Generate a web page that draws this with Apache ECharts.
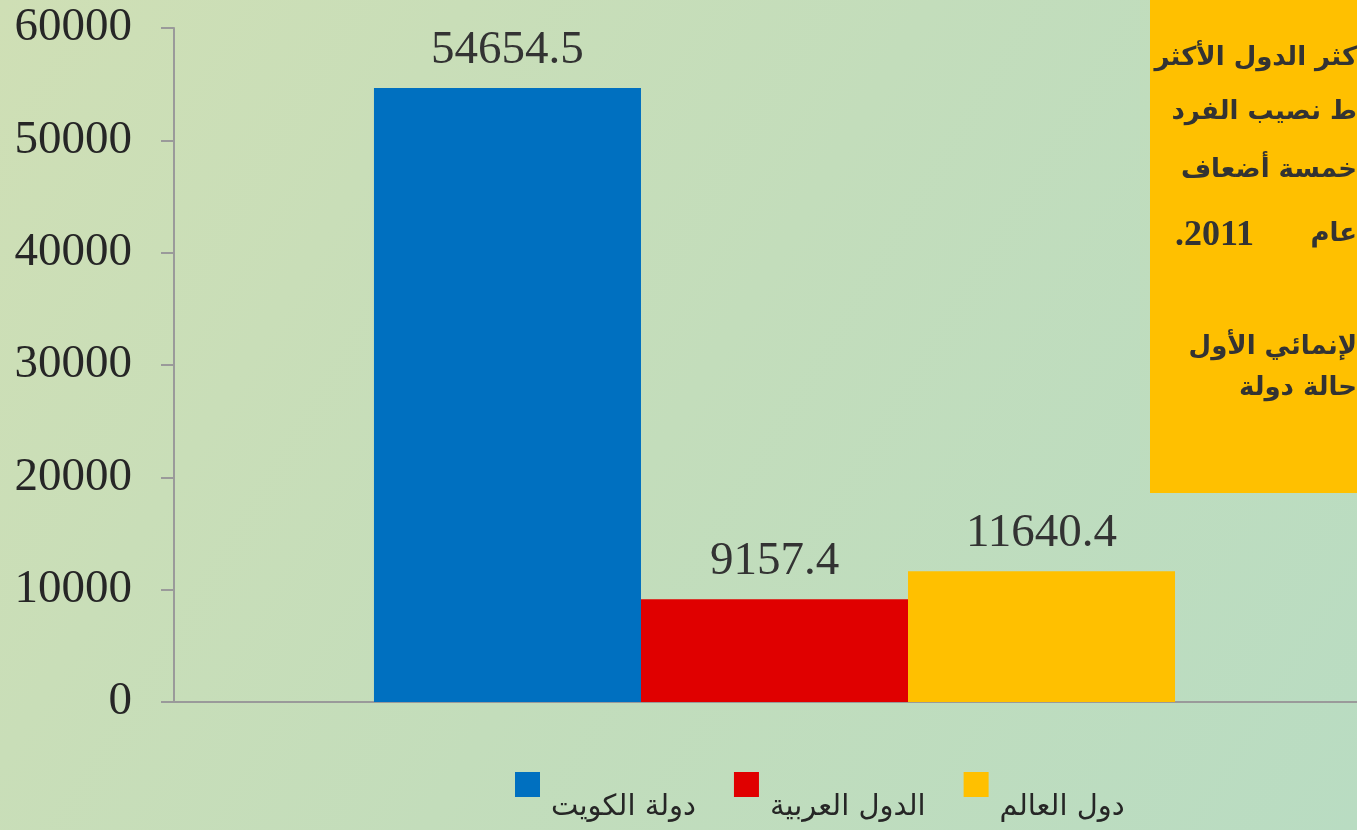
<!DOCTYPE html>
<html>
<head>
<meta charset="utf-8">
<script src="https://cdn.jsdelivr.net/npm/echarts@6/dist/echarts.min.js"></script>
<style>
html,body{margin:0;padding:0;}
#chart{width:1357px;height:830px;}
</style>
</head>
<body>
<div id="chart"></div>
<script>
var categories = [''];
var seriesNames = ['دولة الكويت', 'الدول العربية', 'دول العالم'];
var kuwait = [54654.5];
var arab = [9157.4];
var world = [11640.4];
var yTicks = [0, 10000, 20000, 30000, 40000, 50000, 60000];
var colors = ['#0070C0', '#E00000', '#FFC000'];
var boxLines = ['كثر الدول الأكثر', 'ط نصيب الفرد', 'خمسة أضعاف', 'عام', '', 'لإنمائي الأول', 'حالة دولة'];
var yearText = '.2011';

var chart = echarts.init(document.getElementById('chart'));
var serif = '"Liberation Serif", "DejaVu Serif", serif';
var labelStyle = {show: true, position: 'top', distance: 14, fontFamily: serif, fontSize: 47, color: '#333333'};
function mk(name, data, i) {
  return {name: name, type: 'bar', data: data, barGap: 0, barCategoryGap: '33.3%',
    itemStyle: {color: colors[i]}, label: labelStyle};
}
var lineY = [58, 112, 170, 234, 290, 347, 388];
var shadow = {shadowColor: 'rgba(0,0,0,0.45)', shadowOffsetX: 2, shadowOffsetY: 2, shadowBlur: 2};
var graphics = [{type: 'rect', left: 1150, top: 0, shape: {width: 260, height: 493}, style: {fill: '#FFC000'}, z: -1}];
boxLines.forEach(function(t, i){
  if (!t) return;
  graphics.push({type: 'text', x: 1357, y: lineY[i], z: 10, style: Object.assign({text: t, fill: '#333333', font: 'bold 26px "DejaVu Sans", sans-serif', textAlign: 'right', textVerticalAlign: 'middle'}, shadow)});
});
graphics.push({type: 'text', x: 1175, y: 236, z: 10, style: Object.assign({text: yearText, fill: '#333333', font: 'bold 36px "Liberation Serif", serif', textAlign: 'left', textVerticalAlign: 'middle'}, shadow)});
chart.setOption({
  backgroundColor: {type: 'linear', x: 0, y: 0, x2: 1, y2: 1, colorStops: [
    {offset: 0, color: '#cfdfb5'}, {offset: 0.5, color: '#c3ddbb'}, {offset: 1, color: '#b9dcc2'}]},
  animation: false,
  grid: {left: 174, right: -18, top: 28, bottom: 128, containLabel: false, outerBoundsMode: 'none'},
  legend: {
    data: seriesNames, left: 515, top: 772, padding: 0, itemWidth: 25, itemHeight: 70, itemGap: 38,
    icon: 'path://M0,0h25v25h-25z M0,70h0.01v-0.01z',
    textStyle: {fontFamily: '"DejaVu Sans", sans-serif', fontSize: 29, color: '#262626', padding: [0, 0, 0, 6]}
  },
  xAxis: {type: 'category', data: categories,
    axisLine: {lineStyle: {color: '#9a9a9a', width: 2}}, axisTick: {show: false}, axisLabel: {show: false}},
  yAxis: {type: 'value', min: yTicks[0], max: yTicks[yTicks.length-1], interval: 10000,
    splitLine: {show: false},
    axisLine: {show: true, lineStyle: {color: '#9a9a9a', width: 2}},
    axisTick: {show: true, length: 13, lineStyle: {color: '#9a9a9a', width: 2}},
    axisLabel: {margin: 42, fontFamily: serif, fontSize: 47, color: '#262626', formatter: function(v){ return String(v); }}},
  series: [mk(seriesNames[0], kuwait, 0), mk(seriesNames[1], arab, 1), mk(seriesNames[2], world, 2)],
  graphic: graphics
});
</script>
</body>
</html>
